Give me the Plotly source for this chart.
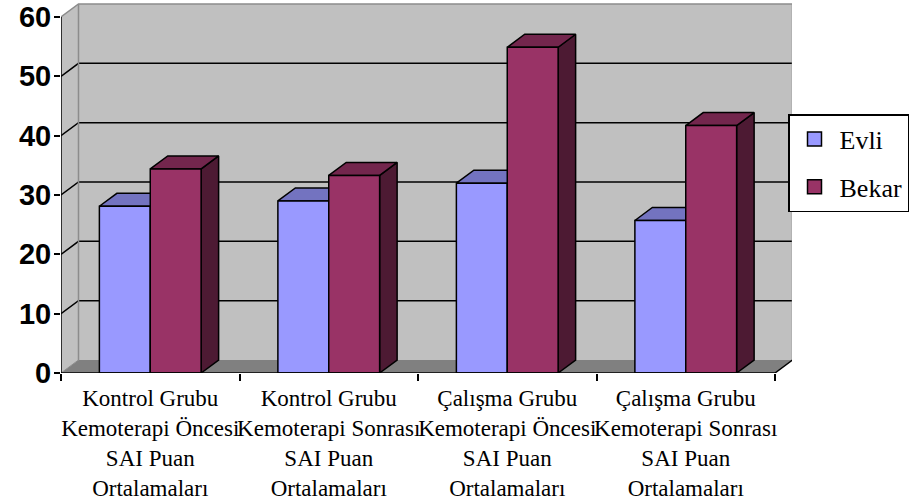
import plotly.graph_objects as go

# --- data -------------------------------------------------------------
categories = [
    "Kontrol Grubu<br>Kemoterapi Öncesi<br>SAI Puan<br>Ortalamaları",
    "Kontrol Grubu<br>Kemoterapi Sonrası<br>SAI Puan<br>Ortalamaları",
    "Çalışma Grubu<br>Kemoterapi Öncesi<br>SAI Puan<br>Ortalamaları",
    "Çalışma Grubu<br>Kemoterapi Sonrası<br>SAI Puan<br>Ortalamaları",
]
series_names = ["Evli", "Bekar"]
evli = [28.1, 29.0, 32.0, 25.7]
bekar = [34.4, 33.3, 54.9, 41.7]
y_ticks = [0, 10, 20, 30, 40, 50, 60]

# --- styling ----------------------------------------------------------
FRONT = {"Evli": "#9999FF", "Bekar": "#993366"}
TOP = {"Evli": "#7373C0", "Bekar": "#73264D"}
SIDE = {"Evli": "#4D4D80", "Bekar": "#4D1A33"}
SERIF = "Liberation Serif, Times New Roman, serif"
SANS = "Liberation Sans, Arial, sans-serif"

X0, X1 = -0.5, len(categories) - 0.5      # category extent
Y_MAX = y_ticks[-1]
DX, DY = 0.098, 2.19                        # depth offset (x units, y units)
BAR_W = 0.285
X_RANGE = [X0, X0 + 731 / 178.5]
Y_RANGE = [0, Y_MAX * 370 / 356]

fig = go.Figure()


def face(xs, ys, color):
    fig.add_trace(go.Scatter(
        x=xs, y=ys, mode="lines", fill="toself", fillcolor=color,
        line=dict(color="black", width=1.5), showlegend=False,
        hoverinfo="skip"))


def column(x0, x1, h, name):
    # right side, top, then front face of a 3-D column
    face([x1, x1 + DX, x1 + DX, x1, x1], [0, DY, h + DY, h, 0], SIDE[name])
    face([x0, x1, x1 + DX, x0 + DX, x0], [h, h, h + DY, h + DY, h], TOP[name])
    face([x0, x1, x1, x0, x0], [0, 0, h, h, 0], FRONT[name])


for i, (a, b) in enumerate(zip(evli, bekar)):
    column(i - BAR_W, i, a, "Evli")
    column(i, i + BAR_W, b, "Bekar")

# legend entries
for name in series_names:
    fig.add_trace(go.Scatter(
        x=[None], y=[None], mode="markers", name=name, legendgroup=name,
        marker=dict(symbol="square", size=14, color=FRONT[name],
                    line=dict(color="black", width=1.5))))

# --- walls, floor and gridlines ----------------------------------------
def poly(pts):
    return "M " + " L ".join(f"{x},{y}" for x, y in pts) + " Z"


def pline(pts):
    return "M " + " L ".join(f"{x},{y}" for x, y in pts)


shapes = [
    dict(type="path", path=poly([(X0, 0), (X0 + DX, DY), (X0 + DX, Y_MAX + DY), (X0, Y_MAX)]),
         fillcolor="#C0C0C0", line=dict(width=0), layer="below"),
    dict(type="path", path=poly([(X0 + DX, DY), (X1 + DX, DY), (X1 + DX, Y_MAX + DY), (X0 + DX, Y_MAX + DY)]),
         fillcolor="#C0C0C0", line=dict(width=0), layer="below"),
    dict(type="path", path=poly([(X0, 0), (X1, 0), (X1 + DX, DY), (X0 + DX, DY)]),
         fillcolor="#808080", line=dict(width=0), layer="below"),
]
for v in y_ticks[1:-1]:
    shapes.append(dict(type="path", path=pline([(X0, v), (X0 + DX, v + DY), (X1 + DX, v + DY)]),
                       line=dict(color="black", width=1.5), layer="below"))
shapes.append(dict(type="path",
                   path=pline([(X0, Y_MAX), (X0 + DX, Y_MAX + DY), (X1 + DX, Y_MAX + DY), (X1 + DX, DY)]),
                   line=dict(color="#8C8C8C", width=1.5), layer="below"))
shapes.append(dict(type="path", path=pline([(X0 + DX, DY), (X0 + DX, Y_MAX + DY)]),
                   line=dict(color="#8C8C8C", width=1.5), layer="below"))
shapes.append(dict(type="path", path=pline([(X0, 0), (X0 + DX, DY)]),
                   line=dict(color="#8C8C8C", width=1), layer="below"))
# front axes
shapes.append(dict(type="path", path=pline([(X0, Y_MAX), (X0, 0), (X1, 0), (X1 + DX, DY)]),
                   line=dict(color="black", width=1.5), layer="above"))
for s in shapes:
    s.update(xref="x", yref="y")

fig.update_layout(
    width=914, height=503,
    margin=dict(l=61, r=122, t=3, b=130, autoexpand=False),
    paper_bgcolor="white", plot_bgcolor="white",
    shapes=shapes,
    showlegend=True,
    legend=dict(
        x=(788 - 61) / 731, y=1 - 111 / 370, xanchor="left", yanchor="top",
        bgcolor="white", bordercolor="black", borderwidth=1.5,
        font=dict(family=SERIF, size=26, color="black"),
        tracegroupgap=11, itemwidth=40,
    ),
    xaxis=dict(
        range=X_RANGE, tickvals=list(range(len(categories))), ticktext=categories,
        ticks="", showgrid=False, zeroline=False, showline=False,
        tickangle=0, automargin=False,
        tickfont=dict(family=SERIF, size=23, color="black"),
        ticklabelstandoff=9,
        minor=dict(tickvals=[X0 + k for k in range(len(categories) + 1)],
                   ticks="outside", ticklen=7, tickwidth=1.5, tickcolor="black",
                   showgrid=False),
    ),
    yaxis=dict(
        range=Y_RANGE, tickvals=y_ticks, ticks="outside", ticklen=6,
        tickwidth=1.5, tickcolor="black", showgrid=False, zeroline=False,
        showline=False, ticklabeloverflow="allow", ticklabelstandoff=-3,
        automargin=False,
        tickfont=dict(family=SANS, size=29, color="black", weight="bold"),
    ),
)

fig.write_html("out.html")
